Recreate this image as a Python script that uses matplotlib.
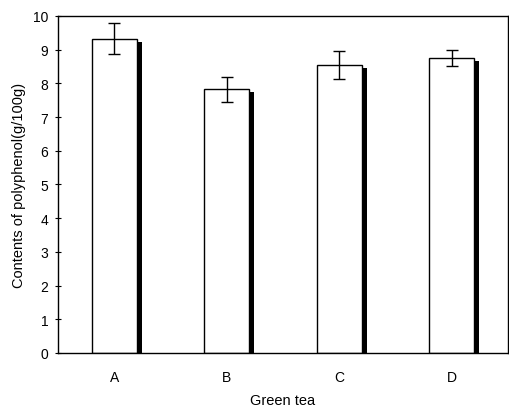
import matplotlib
matplotlib.use("Agg")
import matplotlib.pyplot as plt
import numpy as np

categories = ["A", "B", "C", "D"]
values = [9.33, 7.83, 8.55, 8.75]
errors = [0.45, 0.37, 0.42, 0.24]
yticks = list(range(0, 11))

plt.rcParams['font.family'] = ['Liberation Sans', 'DejaVu Sans']

fig = plt.figure(figsize=(5.1, 4.1), dpi=100)
ax = fig.add_axes([0.1137, 0.1366, 0.8823, 0.822])

x = np.arange(len(categories))
w = 0.40
# shadow bars
ax.bar(x + 0.045, np.array(values) - 0.09, width=w, color='black', edgecolor='black', linewidth=0, zorder=1)
# main bars
ax.bar(x, values, width=w, color='white', edgecolor='black', linewidth=1.0, zorder=2)
ax.errorbar(x, values, yerr=errors, fmt='none', ecolor='black', elinewidth=1.0, capsize=4, capthick=1.0, zorder=3)

ax.set_xlim(-0.5, 3.5)
ax.set_ylim(0, 10)
ax.set_yticks(yticks)
ax.set_xticks(x)
ax.set_xticklabels(categories)
ax.tick_params(axis='y', direction='inout', length=4, labelsize=10, pad=5)
ax.tick_params(axis='x', length=0, labelsize=10, pad=12)
for s in ax.spines.values():
    s.set_linewidth(1.0)
ax.set_xlabel("Green tea", fontsize=10.5, labelpad=7)
ax.set_ylabel("Contents of polyphenol(g/100g)", fontsize=10.5, labelpad=5)

fig.savefig("out.png", dpi=100)
